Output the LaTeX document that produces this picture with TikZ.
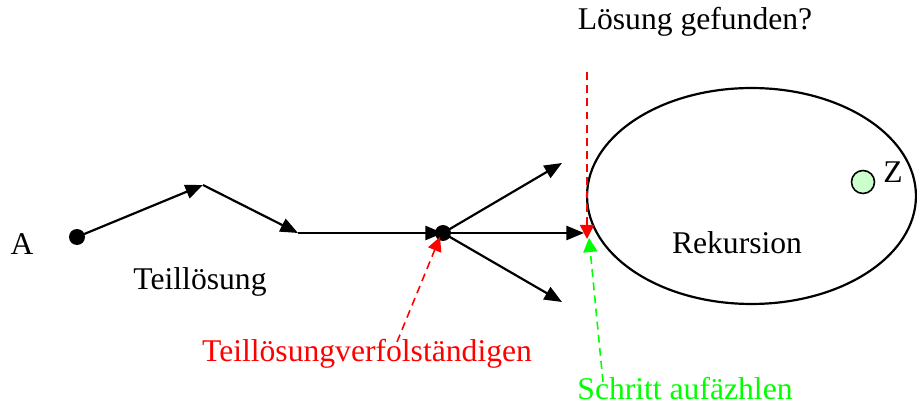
\documentclass[tikz,border=0pt]{standalone}
\usepackage{fontspec}
\setmainfont{Liberation Serif}
\usetikzlibrary{arrows.meta,shapes.geometric}
\definecolor{hellgruen}{RGB}{204,255,204}
\begin{document}
\begin{tikzpicture}[x=0.02cm,y=-0.02cm,font=\fontsize{18}{21}\selectfont,
  line width=1.25pt, >={Triangle[length=10pt,width=8pt]},
  punkt/.style={circle, fill=black, inner sep=0pt, minimum size=0.32cm},
  hinweis/.style={dashed, dash pattern=on 4.5pt off 3pt, line width=0.9pt,
    -{Triangle[length=8pt,width=8pt]}}]
  % Rahmen
  \useasboundingbox (0,0) rectangle (917,408);
  % Rekursion (Ellipse) mit Ziel Z
  \node[draw, ellipse, inner sep=0pt, minimum width=6.58cm, minimum height=4.32cm] (rek) at (751.5,196) {};
  \node (rekl) at (737,243) {Rekursion};
  \node[circle, draw, fill=hellgruen, line width=0.9pt, inner sep=0pt, minimum size=0.46cm] (z) at (863,182) {};
  \node (zl) at (893,172) {Z};
  % Start A und Verzweigungspunkt
  \node[punkt] (A) at (77,237) {};
  \node[punkt] (B) at (443,233) {};
  \node (al) at (22,244) {A};
  \coordinate (k1) at (203,185);
  \coordinate (k2) at (298,233);
  \coordinate (oben) at (562,163);
  \coordinate (mitte) at (584,233);
  \coordinate (unten) at (562,302);
  % Teilloesung
  \draw[->] (A.center) -- (k1);
  \draw[->] (k1) -- (k2);
  \draw[->] (k2) -- (B.center);
  \node (teil) at (200,282) {Teillösung};
  % Verzweigung
  \draw[->] (B.center) -- (oben);
  \draw[->] (B.center) -- (mitte);
  \draw[->] (B.center) -- (unten);
  % Hinweise
  \node (frage) at (695,22) {Lösung gefunden?};
  \node[text=red] (vervoll) at (367,354) {Teillösungverfolständigen};
  \node[text=green] (schritt) at (685,389) {Schritt aufäzhlen};
  \coordinate (rs) at (587,72);
  \coordinate (rz) at (587,239);
  \coordinate (gs) at (603,382);
  \coordinate (gz) at (589,238);
  \coordinate (vs) at (397,342);
  \coordinate (vz) at (440,237);
  \draw[hinweis, red] (rs) -- (rz);
  \draw[hinweis, green] (gs) -- (gz);
  \draw[hinweis, red] (vs) -- (vz);
\end{tikzpicture}
\end{document}
